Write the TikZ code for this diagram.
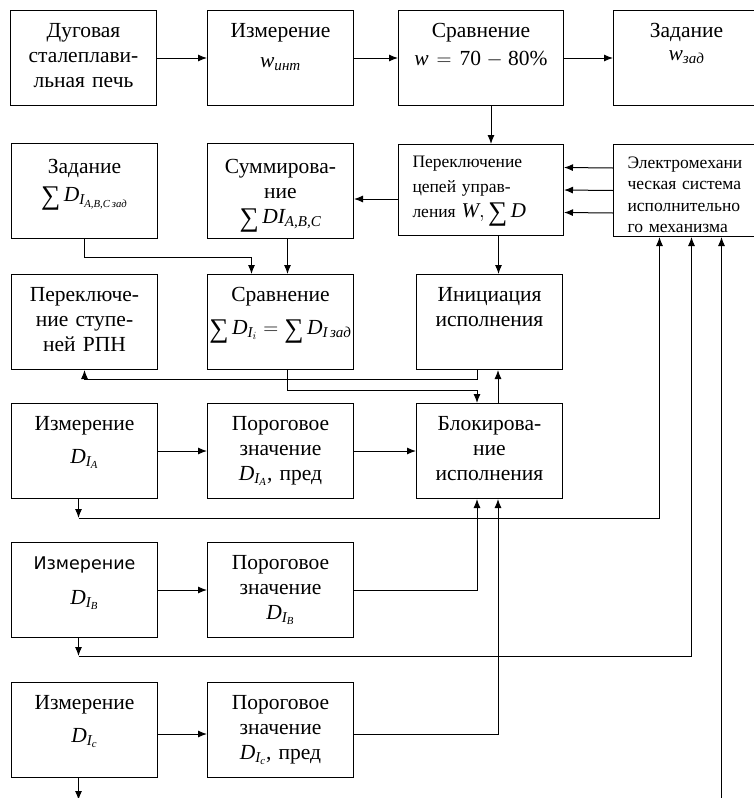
\documentclass[tikz,border=0pt]{standalone}
\usepackage{amsmath}
\usepackage{fontspec}
\setmainfont{Liberation Serif}
\newfontfamily\sansfam{DejaVu Sans}
\usepackage{tikz}
\usetikzlibrary{arrows.meta}
\newcommand{\mv}[1]{\textit{#1}}
\newcommand{\bigsum}{\mathop{\text{\fontsize{27}{27}\selectfont\raisebox{-0.12em}{∑}}}}

\begin{document}
\begin{tikzpicture}[x=1pt, y=-1pt, >={Latex[length=9pt,width=7pt]}, line width=1pt,
                      unit/.style={draw, anchor=north west, align=center, inner sep=0pt,
                                   text width=#1, minimum width=#1, text height=27pt, text depth=68pt,
                                   font=\fontsize{21.5}{25}\selectfont},
                      unit/.default=146pt,
                      note/.style={align=left, text height=23pt, font=\fontsize{17.5}{25}\selectfont}]
  \clip (0,0) rectangle (754,798);
  \node[unit] (furn) at (10,10) {Дуговая\\сталеплави-\\льная печь};
  \node[unit] (winm) at (207,10) {Измерение\\[5pt]$\mv{w}_{\mv{инт}}$};
  \node[unit=165pt] (cmpw) at (398,10) {Сравнение\\[3pt]$\mv{w} = \text{70} - \text{80\%}$};
  \node[unit] (wset) at (613,10) {Задание\\[-2pt]$\mv{w}_{\mv{зад}}$};
  \node[unit, text height=30pt, text depth=65pt] (dset) at (11,143) {Задание\\[3pt]$\bigsum \mv{D}_{\mv{I}_{\mv{A,B,C\,зад}}}$};
  \node[unit, text height=30pt, text depth=65pt] (summ) at (207,143) {Суммирова-\\ние\\$\bigsum \mv{DI}_{\mv{A,B,C}}$};
  \node[unit=165pt, note, text width=137pt] (swch) at (398,144) {Переключение\\цепей управ-\\ления {\fontsize{21}{21}\selectfont$\mv{W}, \bigsum \mv{D}$}};
  \node[unit, note, text width=118pt, text height=24pt, font=\fontsize{17.5}{21.3}\selectfont] (emec) at (613,144) {Электромехани\\ческая система\\исполнительно\\го механизма};
  \node[unit] (rpn) at (11,274) {Переключе-\\ние ступе-\\ней РПН};
  \node[unit] (cmpd) at (207,274) {Сравнение\\[8pt]$\bigsum \mv{D}_{\mv{I}_{i}} = \bigsum \mv{D}_{\mv{I\,зад}}$};
  \node[unit] (init) at (416,274) {Инициация\\исполнения};
  \node[unit] (meA) at (11,403) {Измерение\\[8pt]$\mv{D}_{\mv{I}_{\mv{A}}}$};
  \node[unit] (thrA) at (207,403) {Пороговое\\значение\\$\mv{D}_{\mv{I}_{\mv{A}}}$, пред};
  \node[unit] (blok) at (416,403) {Блокирова-\\ние\\исполнения};
  \node[unit] (meB) at (11,542) {{\sansfam\fontsize{17.5}{25}\selectfont Измерение}\\[10pt]$\mv{D}_{\mv{I}_{\mv{B}}}$};
  \node[unit] (thrB) at (207,542) {Пороговое\\значение\\$\mv{D}_{\mv{I}_{\mv{B}}}$};
  \node[unit] (meC) at (11,682) {Измерение\\[8pt]$\mv{D}_{\mv{I}_{\mv{c}}}$};
  \node[unit] (thrC) at (207,682) {Пороговое\\значение\\$\mv{D}_{\mv{I}_{\mv{c}}}$, пред};
  \draw[->] (furn) -- (winm);
  \draw[->] (winm) -- (cmpw);
  \draw[->] (cmpw) -- (wset);
  \draw[->] ([xshift=10pt]cmpw.south) -- ([xshift=10pt]swch.north);
  \foreach \d in {22.5,0,-22.5}
    \draw[->] ([yshift=\d pt]emec.west) -- ([yshift=\d pt]swch.east);
  \draw[->] ([yshift=-9pt]swch.west) -- ([yshift=-9pt]swch.west -| summ.east);
  \draw[->] ([xshift=17.5pt]swch.south) -- ([xshift=17.5pt]swch.south |- init.north);
  \draw[->] (dset.south) -- ++(0pt,-18pt) -| ([xshift=-29pt]cmpd.north);
  \draw[->] ([xshift=7pt]summ.south) -- ([xshift=7pt]cmpd.north);
  \draw[->] ([xshift=7pt]cmpd.south) |- ([xshift=-12.5pt,yshift=13pt]blok.north) -- ([xshift=-12.5pt]blok.north);
  \draw[->] ([xshift=-12.5pt]init.south) -- ++(0pt,-9pt) -| (rpn.south);
  \draw[->] ([xshift=8.5pt]blok.north) -- ([xshift=8.5pt]init.south);
  \draw[->] (meA) -- (thrA);
  \draw[->] (thrA) -- (blok);
  \draw[->] ([xshift=-6pt]meA.south) -- ++(0pt,-19pt) coordinate (jA);
  \draw[->] (jA) -| ([xshift=-27pt]emec.south);
  \draw[->] (meB) -- (thrB);
  \draw[->] (thrB) -| ([xshift=-12.5pt]blok.south);
  \draw[->] ([xshift=-6pt]meB.south) -- ++(0pt,-18pt) coordinate (jB);
  \draw[->] (jB) -| ([xshift=5pt]emec.south);
  \draw[->] ([yshift=-4pt]meC.east) -- ([yshift=-4pt]thrC.west);
  \draw[->] ([yshift=-4pt]thrC.east) -| ([xshift=8.5pt]blok.south);
  \draw[->] ([xshift=-6pt]meC.south) -- ++(0pt,-22pt) coordinate (jC);
  \draw[->] (jC) -| ([xshift=35pt]emec.south);
\end{tikzpicture}
\end{document}
